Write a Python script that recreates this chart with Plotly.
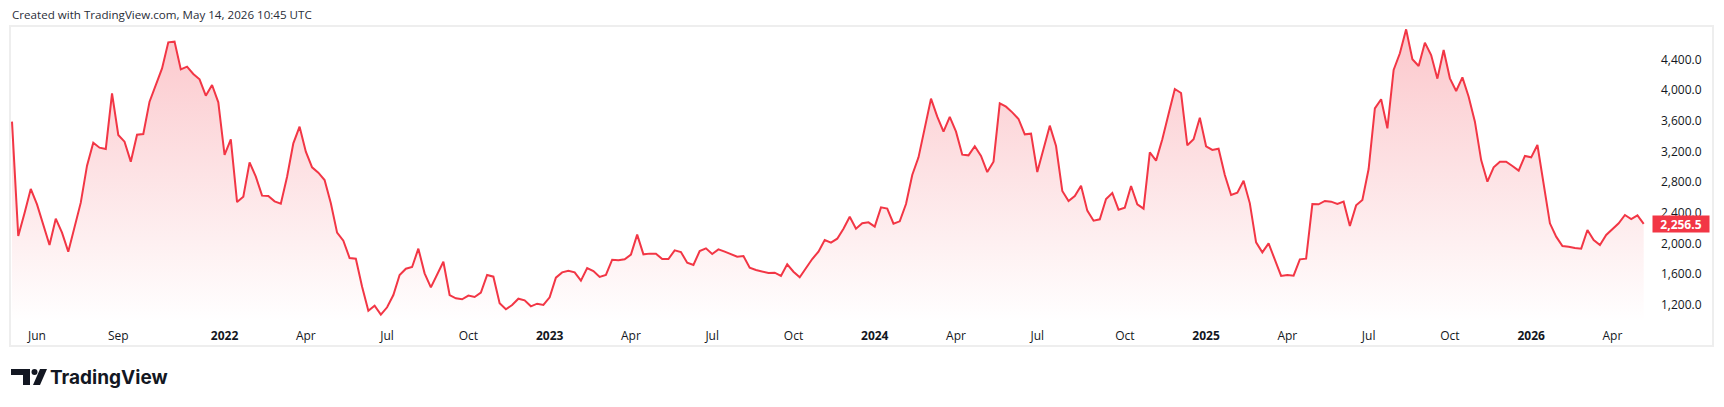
import pandas as pd
import plotly.graph_objects as go

# ---------------- data (weekly closes) ----------------
values_2021 = [3588, 2099, 2394, 2711, 2511, 2242, 1981, 2324, 2142, 1895, 2199, 2533,
               3015, 3314, 3249, 3232, 3957, 3414, 3327, 3067, 3418, 3427, 3848, 4074,
               4282, 4621, 4630, 4269, 4304, 4209, 4139, 3926, 4065, 3840]
values_2022 = [3154, 3358, 2541, 2611, 3058, 2871, 2624, 2620, 2550, 2520, 2871, 3306,
               3523, 3197, 2993, 2924, 2828, 2524, 2142, 2038, 1812, 1803, 1439, 1126,
               1191, 1074, 1170, 1330, 1591, 1673, 1695, 1934, 1612, 1430, 1591, 1764,
               1330, 1287, 1274, 1322, 1304, 1361, 1591, 1569, 1222, 1144, 1200, 1282,
               1261, 1183, 1217, 1200]
values_2023 = [1300, 1556, 1625, 1647, 1625, 1517, 1682, 1643, 1565, 1591, 1790, 1782,
               1795, 1856, 2116, 1860, 1869, 1869, 1799, 1799, 1912, 1890, 1751, 1721,
               1903, 1938, 1864, 1925, 1895, 1864, 1830, 1838, 1686, 1656, 1634, 1617,
               1621, 1578, 1730, 1634, 1560, 1678, 1799, 1895, 2047, 2012, 2064, 2194,
               2350, 2194, 2264, 2277]
values_2024 = [2220, 2472, 2455, 2259, 2290, 2515, 2893, 3123, 3501, 3887, 3653, 3458,
               3649, 3458, 3158, 3149, 3267, 3141, 2932, 3067, 3827, 3783, 3709, 3623,
               3423, 3431, 2932, 3240, 3536, 3271, 2685, 2555, 2620, 2754, 2429, 2298,
               2316, 2581, 2659, 2442, 2468, 2750, 2511, 2455, 3188, 3080, 3358, 3688,
               4013, 3961, 3280, 3358, 3640]
values_2025 = [3267, 3219, 3236, 2893, 2633, 2663, 2819, 2524, 2016, 1886, 2003, 1795,
               1578, 1591, 1582, 1795, 1803, 2515, 2511, 2555, 2546, 2515, 2546, 2229,
               2498, 2568, 2971, 3761, 3879, 3501, 4261, 4478, 4790, 4400, 4313, 4617,
               4456, 4148, 4521, 4152, 3987, 4165, 3913, 3588, 3088, 2806, 2993, 3067,
               3067, 3010, 2950, 3141]
values_2026 = [3123, 3284, 2793, 2264, 2090, 1968, 1960, 1942, 1934, 2177, 2047, 1981,
               2112, 2194, 2264, 2372, 2320, 2368, 2256.5]

close = values_2021 + values_2022 + values_2023 + values_2024 + values_2025 + values_2026
first_week = "2021-05-10"
dates = pd.date_range(first_week, periods=len(close), freq="7D")

tick_dates = ["2021-06-07", "2021-09-06", "2022-01-03", "2022-04-04", "2022-07-04",
              "2022-10-03", "2023-01-02", "2023-04-03", "2023-07-03", "2023-10-02",
              "2024-01-01", "2024-04-01", "2024-07-01", "2024-10-07", "2025-01-06",
              "2025-04-07", "2025-07-07", "2025-10-06", "2026-01-05", "2026-04-06"]
tick_labels = ["Jun", "Sep", "<b>2022</b>", "Apr", "Jul", "Oct", "<b>2023</b>", "Apr", "Jul",
               "Oct", "<b>2024</b>", "Apr", "Jul", "Oct", "<b>2025</b>", "Apr", "Jul", "Oct",
               "<b>2026</b>", "Apr"]
price_ticks = [1200, 1600, 2000, 2400, 2800, 3200, 3600, 4000, 4400]
last_price_text = "2,256.5"

# ---------------- geometry ----------------
W, H = 1724, 407
PL, PR, PT, PB = 11, 1645, 27, 322          # price pane in pixels
X_FIRST, X_LAST = 12.0, 1643.7              # pixel x of first / last bar
Y_MIN, Y_MAX = 978.6, 4820.7                # value range of the pane

per_px = (dates[-1] - dates[0]) / (X_LAST - X_FIRST)
x_range = [dates[0] - per_px * (X_FIRST - PL), dates[-1] + per_px * (PR - X_LAST)]


def fx(p):
    return (p - PL) / (PR - PL)


def fy(p):
    return (PB - p) / (PB - PT)


RED = "#F23645"
TXT = "#131722"
FONT = "Open Sans"

fig = go.Figure()
fig.add_trace(go.Scatter(
    x=dates, y=close, mode="lines",
    line=dict(color=RED, width=2),
    fill="tozeroy",
    fillgradient=dict(type="vertical",
                      colorscale=[[0, "rgba(242,54,69,0.0)"], [1, "rgba(242,54,69,0.28)"]],
                      start=Y_MIN, stop=Y_MAX),
    hoverinfo="skip", showlegend=False,
))

shapes = [
    # outer frame
    dict(type="rect", xref="paper", yref="paper",
         x0=fx(10), x1=fx(1713), y0=fy(26), y1=fy(346),
         line=dict(color="#EEEEEE", width=2), fillcolor="rgba(0,0,0,0)", layer="below"),
]

# TradingView logo icon
def path(points):
    return "M " + " L ".join(f"{fx(a):.6f},{fy(b):.6f}" for a, b in points) + " Z"

shapes.append(dict(type="path", xref="paper", yref="paper",
                   path=path([(11, 369), (30, 369), (30, 385), (23, 385), (23, 375), (11, 375)]),
                   fillcolor="#131722", line=dict(width=0)))
shapes.append(dict(type="circle", xref="paper", yref="paper",
                   x0=fx(31.5), x1=fx(37.5), y0=fy(369), y1=fy(375),
                   fillcolor="#131722", line=dict(width=0)))
shapes.append(dict(type="path", xref="paper", yref="paper",
                   path=path([(40, 369), (47, 369), (40, 385), (33, 385)]),
                   fillcolor="#131722", line=dict(width=0)))

annotations = [
    dict(text="Created with TradingView.com, May 14, 2026 10:45 UTC",
         xref="paper", yref="paper", x=fx(10), y=fy(14), xanchor="left", yanchor="middle",
         showarrow=False, font=dict(family=FONT, size=11.6, color="#2A2E39")),
    dict(text="<b>TradingView</b>", xref="paper", yref="paper", x=fx(48), y=fy(377),
         xanchor="left", yanchor="middle", showarrow=False,
         font=dict(family="Inter", size=19, color="#131722")),
    dict(text=f"<b>{last_price_text}</b>", xref="paper", yref="y", x=fx(1652), y=close[-1],
         xanchor="left", yanchor="middle", showarrow=False, width=54, height=14,
         bgcolor=RED, borderpad=1, align="center",
         font=dict(family=FONT, size=12, color="white")),
]

fig.update_layout(
    width=W, height=H,
    margin=dict(l=PL, r=W - PR, t=PT, b=H - PB, pad=0),
    paper_bgcolor="white", plot_bgcolor="white",
    shapes=shapes, annotations=annotations,
    xaxis=dict(type="date", range=x_range, tickvals=tick_dates, ticktext=tick_labels,
               showgrid=False, zeroline=False, showline=False, ticks="",
               tickfont=dict(family=FONT, size=12, color=TXT), ticklabelstandoff=5),
    yaxis=dict(side="right", range=[Y_MIN, Y_MAX], tickvals=price_ticks, tickformat=",.1f",
               showgrid=False, zeroline=False, showline=False, ticks="",
               tickfont=dict(family=FONT, size=12, color=TXT), ticklabelstandoff=15),
)

fig.write_html("out.html")
